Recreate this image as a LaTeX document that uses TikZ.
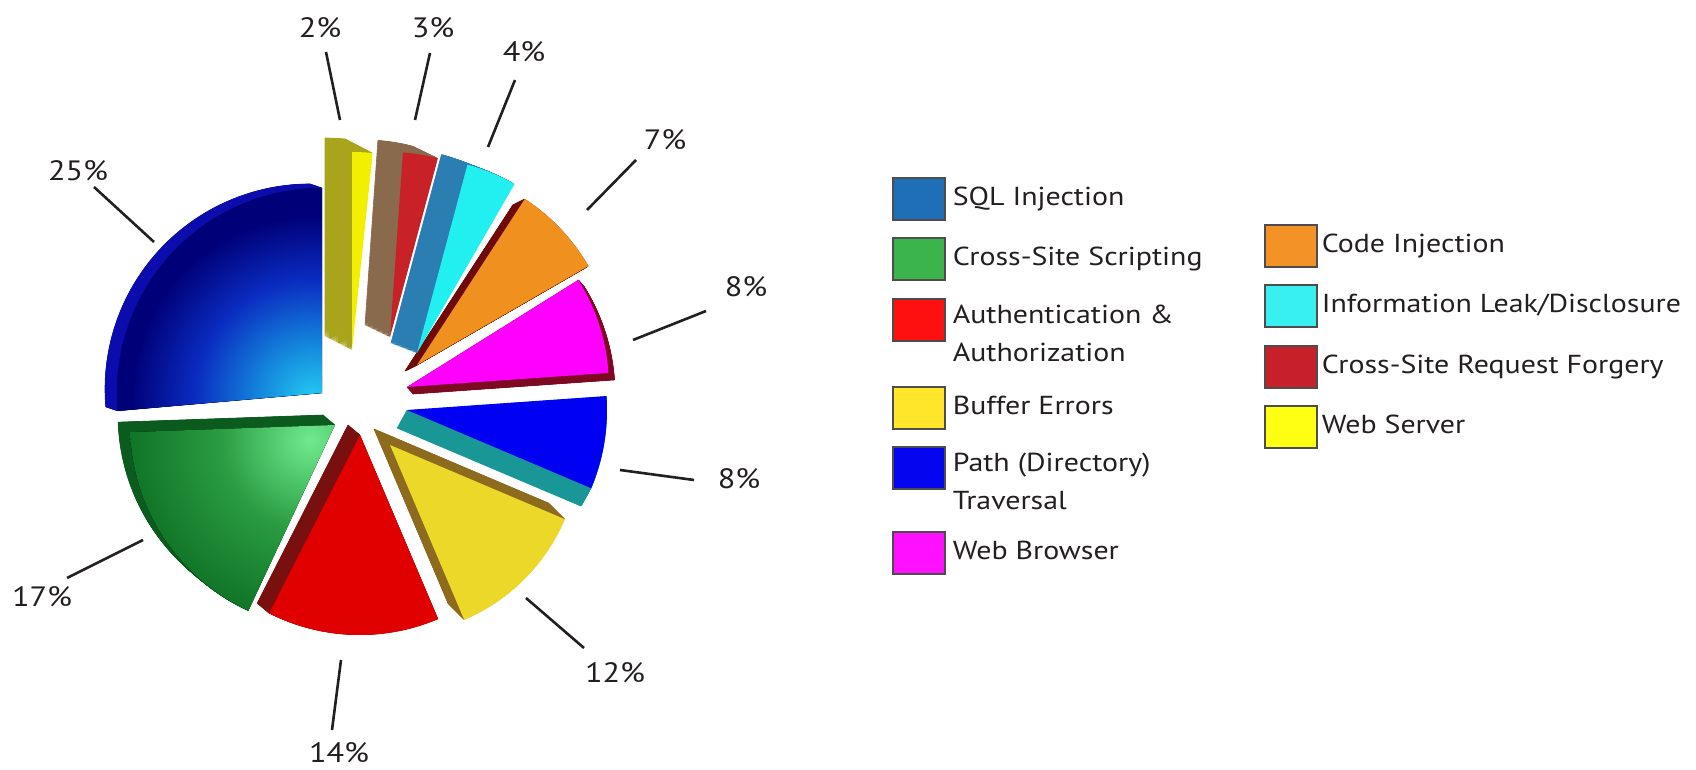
\documentclass[tikz,border=0pt]{standalone}
\usepackage{fontspec}
\setmainfont{PT Sans}[FakeStretch=1.15]
\usepackage{tikz}
\usetikzlibrary{positioning,calc}

\definecolor{ink}{HTML}{231F20}
% slice faces and their darker sides
\definecolor{navydeep}{HTML}{000078}
\definecolor{navymid}{HTML}{0A2CC0}
\definecolor{navysky}{HTML}{1486DC}
\definecolor{navyglow}{HTML}{24CCF2}
\definecolor{navyside}{HTML}{0C0CAE}
\definecolor{greenlite}{HTML}{70EA8E}
\definecolor{greenmid}{HTML}{2A9C42}
\definecolor{greendeep}{HTML}{0A6A20}
\definecolor{greenside}{HTML}{0B5A1E}
\definecolor{redface}{HTML}{E00000}
\definecolor{redside}{HTML}{781010}
\definecolor{goldface}{HTML}{ECD828}
\definecolor{goldside}{HTML}{8C6A1E}
\definecolor{pathface}{HTML}{0000F2}
\definecolor{pathside}{HTML}{199696}
\definecolor{webface}{HTML}{FF00FF}
\definecolor{webside}{HTML}{7E0A22}
\definecolor{codeface}{HTML}{F0901E}
\definecolor{codeside}{HTML}{6E0A0A}
\definecolor{leakface}{HTML}{22F0F0}
\definecolor{leakside}{HTML}{2A7EB2}
\definecolor{csrfface}{HTML}{C82228}
\definecolor{csrfside}{HTML}{8A6A4C}
\definecolor{srvface}{HTML}{F2F000}
\definecolor{srvside}{HTML}{A8A41C}
% legend swatches
\definecolor{lgSQL}{HTML}{1F6FB6}
\definecolor{lgXSS}{HTML}{3CB44C}
\definecolor{lgAuth}{HTML}{FF1010}
\definecolor{lgBuf}{HTML}{FFE62A}
\definecolor{lgPath}{HTML}{0505F0}
\definecolor{lgWeb}{HTML}{FF10FF}
\definecolor{lgCode}{HTML}{F39226}
\definecolor{lgLeak}{HTML}{38F0F0}
\definecolor{lgCsrf}{HTML}{C8202A}
\definecolor{lgSrv}{HTML}{FFFF14}

\pgfdeclareradialshading{navyshine}{\pgfpoint{0bp}{0bp}}{color(0bp)=(navyglow);
  color(6bp)=(navysky); color(13bp)=(navymid); color(20bp)=(navydeep); color(50bp)=(navydeep)}
\pgfdeclareradialshading{greenshine}{\pgfpoint{0bp}{0bp}}{color(0bp)=(greenlite);
  color(7bp)=(greenmid); color(16bp)=(greendeep); color(50bp)=(greendeep)}

\begin{document}
\begin{tikzpicture}[x=1pt,y=1pt,
  navyface/.style={path picture={\shade[shading=navyshine]
      ($(path picture bounding box.south east)+(-8,12)$) circle (230);}},
  greenface/.style={path picture={\shade[shading=greenshine]
      ($(path picture bounding box.north east)+(-25,-15)$) circle (320);}},
  leader/.style={line width=2.6pt,draw=ink},
  pct/.style={font=\fontsize{28}{30}\selectfont,text=ink,inner sep=0pt},
  swatch/.style={draw=ink!80,line width=1.2pt,minimum width=52pt,minimum height=42pt,inner sep=0pt},
  key/.style={font=\fontsize{26}{38}\selectfont,text=ink,align=left,inner sep=2pt},
  keyline/.style={key,text height=19pt,text depth=6pt},
]
\useasboundingbox (0,0) rectangle (1696,769);

% exploded slices: apex / start / end / radius / side offset / face / side
\foreach \ax/\ay/\a/\b/\r/\dx/\dy/\face/\side in {
    322/376/90/185/205/-12/4/navyface/navyside,
    335/344/182/245/205/-12/10/greenface/greenside,
    360/334/243/293/200/-12/10/redface/redside,
    390/324/293/337/190/-16/16/goldface/goldside,
    407/359/-23/4/200/-10/-18/pathface/pathside,
    407/382/4/32/202/6/-7/webface/webside,
    417/404/30/57/198/-12/-6/codeface/codeside,
    417/416/60/75/195/-26/10/leakface/leakside,
    390/432/75/86/185/-25/12/csrfface/csrfside,
    352/419/84/90/198/-27/14/srvface/srvside}{
  \foreach \t in {1,...,30}
    \filldraw[\side,line width=0.6pt,line join=round,shift={({\t*\dx/30},{\t*\dy/30})}]
      (\ax,\ay) -- +(\a:\r) arc[start angle=\a,end angle=\b,radius=\r] -- cycle;
  \fill[\face] (\ax,\ay) -- +(\a:\r) arc[start angle=\a,end angle=\b,radius=\r] -- cycle;
}

% percentages with their leader lines
\foreach \n/\txt/\lx/\ly/\sx/\sy/\tx/\ty in {
    25/25\%/78/598/94/582/154/527,
    17/17\%/42/172/67/191/143/229,
    14/14\%/339/16/332/39/341/109,
    12/12\%/615/96/584/121/526/171,
    8b/8\%/739/290/694/289/620/299,
    8a/8\%/746/482/706/458/633/429,
    7/7\%/665/629/636/609/587/559,
    4/4\%/524/717/515/689/488/622,
    3/3\%/433/741/430/716/415/649,
    2/2\%/320/741/326/717/340/649}{
  \node[pct] (p\n) at (\lx,\ly) {\txt};
  \coordinate (s\n) at (\sx,\sy);
  \coordinate (t\n) at (\tx,\ty);
  \draw[leader] (s\n) -- (t\n);
}

% legend
\foreach \k/\x/\y/\col in {SQL/919/570/lgSQL, XSS/919/510/lgXSS, Auth/919/449/lgAuth,
    Buf/919/361/lgBuf, Path/919/301/lgPath, Web/919/216/lgWeb,
    Code/1291/523/lgCode, Leak/1291/463/lgLeak, Csrf/1291/402/lgCsrf, Srv/1291/342/lgSrv}{
  \node[swatch,fill=\col] (k\k) at (\x,\y) {};
}
\node[keyline,right=5pt of kSQL] (tSQL) {SQL Injection};
\node[keyline,right=5pt of kXSS] (tXSS) {Cross-Site Scripting};
\node[key,anchor=north west] (tAuth) at ($(kAuth.north east)+(5,-4)$) {Authentication \&\\Authorization};
\node[keyline,right=5pt of kBuf] (tBuf) {Buffer Errors};
\node[key,anchor=north west] (tPath) at ($(kPath.north east)+(5,-4)$) {Path (Directory)\\Traversal};
\node[keyline,right=5pt of kWeb] (tWeb) {Web Browser};
\node[keyline,right=2pt of kCode] (tCode) {Code Injection};
\node[keyline,right=2pt of kLeak] (tLeak) {Information Leak/Disclosure};
\node[keyline,right=2pt of kCsrf] (tCsrf) {Cross-Site Request Forgery};
\node[keyline,right=2pt of kSrv] (tSrv) {Web Server};
\end{tikzpicture}
\end{document}
